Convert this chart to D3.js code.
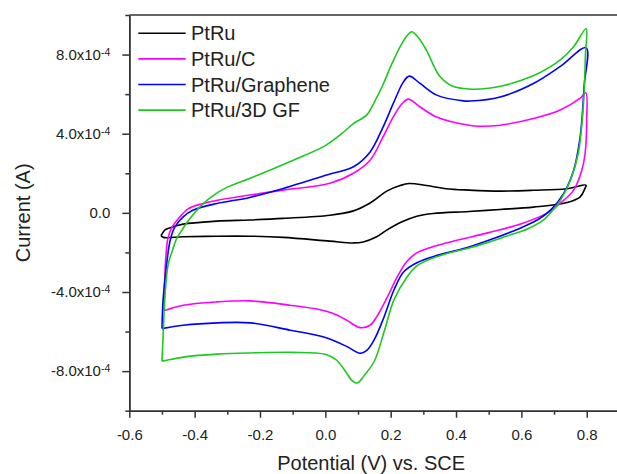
<!DOCTYPE html>
<html>
<head>
<meta charset="utf-8">
<script src="https://cdn.jsdelivr.net/npm/d3@7"></script>
<style>
  body { margin: 0; background: #fff; }
  svg { display: block; font-family: "Liberation Sans", Arial, sans-serif; }
</style>
</head>
<body>
<svg></svg>
<script>
// current values are in units of 1e-4 A, potential in V vs. SCE
let seriesNames = ["PtRu", "PtRu/C", "PtRu/Graphene", "PtRu/3D GF"]

let ptru = [
  [-0.503, -1.15], [-0.49, -0.85], [-0.475, -0.75], [-0.435, -0.57], [-0.333, -0.42], [-0.231, -0.36],
  [-0.129, -0.28], [0.014, -0.12], [0.086, 0.10], [0.137, 0.50], [0.188, 1.10], [0.229, 1.38],
  [0.257, 1.48], [0.31, 1.38], [0.37, 1.22], [0.44, 1.15], [0.535, 1.10], [0.637, 1.14], [0.739, 1.22],
  [0.798, 1.40],
  [0.795, 1.25], [0.78, 0.81], [0.74, 0.52], [0.637, 0.29], [0.535, 0.17], [0.44, 0.07], [0.33, -0.03],
  [0.28, -0.17], [0.235, -0.45], [0.188, -0.87], [0.157, -1.21], [0.116, -1.47], [0.086, -1.52],
  [0.014, -1.43], [-0.129, -1.24], [-0.231, -1.18], [-0.333, -1.18], [-0.435, -1.21], [-0.496, -1.24],
  [-0.503, -1.15]
]

let ptruC = [
  [-0.494, -4.95], [-0.492, -3.5], [-0.488, -2.2], [-0.482, -1.3], [-0.47, -0.75], [-0.45, -0.3],
  [-0.42, 0.2], [-0.38, 0.45], [-0.33, 0.64], [-0.23, 0.9], [-0.13, 1.15], [0.014, 1.5], [0.086, 2.0],
  [0.137, 2.66], [0.177, 3.85], [0.208, 4.85], [0.234, 5.5], [0.254, 5.75], [0.29, 5.35], [0.34, 4.85],
  [0.44, 4.43], [0.474, 4.38], [0.535, 4.43], [0.637, 4.77], [0.719, 5.2], [0.78, 5.8], [0.797, 6.07],
  [0.8, 4.7], [0.795, 3.0], [0.785, 2.15], [0.76, 1.15], [0.72, 0.5], [0.68, 0.0], [0.6, -0.55],
  [0.5, -1.0], [0.4, -1.4], [0.32, -1.76], [0.28, -2.02], [0.25, -2.45], [0.22, -3.24], [0.19, -4.25],
  [0.157, -5.26], [0.137, -5.68], [0.106, -5.8], [0.065, -5.42], [0.024, -5.09], [-0.016, -4.9],
  [-0.108, -4.67], [-0.23, -4.45], [-0.33, -4.5], [-0.435, -4.67], [-0.494, -4.95]
]

let ptruGraphene = [
  [-0.5, -5.85], [-0.497, -4.5], [-0.491, -3.4], [-0.475, -1.4], [-0.46, -0.7], [-0.435, -0.2],
  [-0.404, 0.14], [-0.332, 0.47], [-0.231, 0.78], [-0.129, 1.23], [0.014, 1.96], [0.086, 2.33],
  [0.137, 3.08], [0.177, 4.35], [0.208, 5.53], [0.239, 6.62], [0.257, 6.91], [0.29, 6.54], [0.341, 5.95],
  [0.422, 5.66], [0.443, 5.65], [0.535, 5.86], [0.637, 6.54], [0.719, 7.4], [0.798, 8.35],
  [0.792, 6.4], [0.78, 3.85], [0.76, 2.15], [0.73, 1.0], [0.69, 0.15], [0.65, -0.35], [0.6, -0.75],
  [0.5, -1.38], [0.42, -1.82], [0.34, -2.16], [0.28, -2.52], [0.24, -2.98], [0.21, -3.9], [0.18, -5.25],
  [0.15, -6.4], [0.127, -6.95], [0.106, -7.1], [0.065, -6.75], [0.0, -6.3], [-0.108, -5.93],
  [-0.23, -5.56], [-0.33, -5.56], [-0.435, -5.68], [-0.5, -5.85]
]

let ptru3DGF = [
  [-0.5, -7.5], [-0.496, -6.0], [-0.491, -4.25], [-0.481, -2.6], [-0.468, -1.9], [-0.455, -1.3],
  [-0.44, -0.9], [-0.424, -0.5], [-0.405, -0.1], [-0.384, 0.3], [-0.35, 0.8], [-0.3, 1.3], [-0.23, 1.75],
  [-0.1, 2.65], [0.0, 3.4], [0.05, 4.0], [0.085, 4.5], [0.127, 4.95], [0.15, 5.6], [0.177, 6.5],
  [0.2, 7.4], [0.229, 8.4], [0.25, 8.95], [0.264, 9.15], [0.285, 8.85], [0.31, 8.2], [0.35, 6.9],
  [0.39, 6.4], [0.45, 6.25], [0.5, 6.3], [0.55, 6.45], [0.6, 6.7], [0.64, 6.95], [0.68, 7.3],
  [0.72, 7.75], [0.76, 8.4], [0.798, 9.3],
  [0.796, 8.0], [0.79, 5.5], [0.774, 3.0], [0.75, 1.65], [0.72, 0.65], [0.7, 0.2], [0.667, -0.37],
  [0.62, -0.8], [0.55, -1.2], [0.5, -1.48], [0.44, -1.78], [0.38, -2.02], [0.32, -2.34], [0.28, -2.68],
  [0.25, -3.24], [0.21, -4.4], [0.18, -6.0], [0.15, -7.5], [0.12, -8.2], [0.098, -8.6], [0.08, -8.45],
  [0.065, -8.1], [0.035, -7.45], [0.0, -7.15], [-0.1, -7.05], [-0.23, -7.08], [-0.33, -7.14],
  [-0.43, -7.28], [-0.5, -7.5]
]

let xMajorTicks = [-0.6, -0.4, -0.2, 0.0, 0.2, 0.4, 0.6, 0.8]
let xMinorTicks = [-0.5, -0.3, -0.1, 0.1, 0.3, 0.5, 0.7, 0.9]
let yMajorTicks = [-8, -4, 0, 4, 8]
let yMinorTicks = [-10, -6, -2, 2, 6, 10]

let colors = ["#000000", "#ff00ff", "#0000ff", "#1ec81e"]
let loops = [ptru, ptruC, ptruGraphene, ptru3DGF]

let width = 617
let height = 474
let axisColor = "#333"
let textColor = "#222"

let svg = d3.select("svg").attr("width", width).attr("height", height)

let xScale = d3.scaleLinear().domain([-0.6, 0.9]).range([129.3, 619.4])
let yScale = d3.scaleLinear().domain([-10, 10]).range([410.7, 15])

let styleAxis = g => {
  g.selectAll("path, line").attr("stroke", axisColor).attr("stroke-width", 1.5)
  g.selectAll("text").attr("fill", textColor).style("font-size", "15px")
    .style("font-family", "Liberation Sans, Arial, sans-serif")
}

// x axis
svg.append("g")
   .attr("transform", "translate(0," + yScale(-10) + ")")
   .call(d3.axisBottom(xScale).tickValues(xMinorTicks).tickSize(4).tickSizeOuter(0).tickFormat(""))
   .call(styleAxis)
svg.append("g")
   .attr("transform", "translate(0," + yScale(-10) + ")")
   .call(d3.axisBottom(xScale).tickValues(xMajorTicks).tickSize(7).tickSizeOuter(0)
           .tickPadding(12).tickFormat(d => d.toFixed(1)))
   .call(styleAxis)

// y axis
svg.append("g")
   .attr("transform", "translate(" + xScale(-0.6) + ",0)")
   .call(d3.axisLeft(yScale).tickValues(yMinorTicks).tickSize(4).tickSizeOuter(0).tickFormat(""))
   .call(styleAxis)
let yAxisG = svg.append("g")
   .attr("transform", "translate(" + xScale(-0.6) + ",0)")
   .call(d3.axisLeft(yScale).tickValues(yMajorTicks).tickSize(7).tickSizeOuter(0).tickPadding(12))
   .call(styleAxis)

yAxisG.selectAll(".tick text").each(function (d) {
  let t = d3.select(this).text("")
  if (d === 0) {
    t.text("0.0")
    return
  }
  t.append("tspan").text(d.toFixed(1) + "x10")
  t.append("tspan").attr("dy", "-4").style("font-size", "10.5px").text("-4")
})

// top frame line
svg.append("line")
   .attr("x1", xScale(-0.6)).attr("x2", xScale(0.9))
   .attr("y1", yScale(10)).attr("y2", yScale(10))
   .attr("stroke", axisColor).attr("stroke-width", 1.5)

// CV loops
let line = d3.line()
  .x(d => xScale(d[0]))
  .y(d => yScale(d[1]))
  .curve(d3.curveCatmullRom.alpha(0.5))

svg.append("g").selectAll("path")
   .data(loops)
   .enter()
   .append("path")
   .attr("d", d => line(d))
   .attr("fill", "none")
   .attr("stroke", (d, i) => colors[i])
   .attr("stroke-width", 1.6)

// legend
let legend = svg.append("g")
seriesNames.forEach((name, i) => {
  let ly = 33.3 + i * 25.6
  legend.append("line")
     .attr("x1", 138.3).attr("x2", 185.7)
     .attr("y1", ly).attr("y2", ly)
     .attr("stroke", colors[i]).attr("stroke-width", 1.6)
  legend.append("text")
     .attr("x", 191).attr("y", ly + 7)
     .style("font-size", "20px")
     .attr("fill", textColor)
     .text(name)
})

// axis titles
svg.append("text")
   .attr("x", (xScale(-0.6) + 617) / 2 - 2)
   .attr("y", 470)
   .attr("text-anchor", "middle")
   .style("font-size", "20px")
   .attr("fill", textColor)
   .text("Potential (V) vs. SCE")

svg.append("text")
   .attr("transform", "translate(30," + yScale(0) + ") rotate(-90)")
   .attr("text-anchor", "middle")
   .style("font-size", "20px")
   .attr("fill", textColor)
   .text("Current (A)")
</script>
</body>
</html>
